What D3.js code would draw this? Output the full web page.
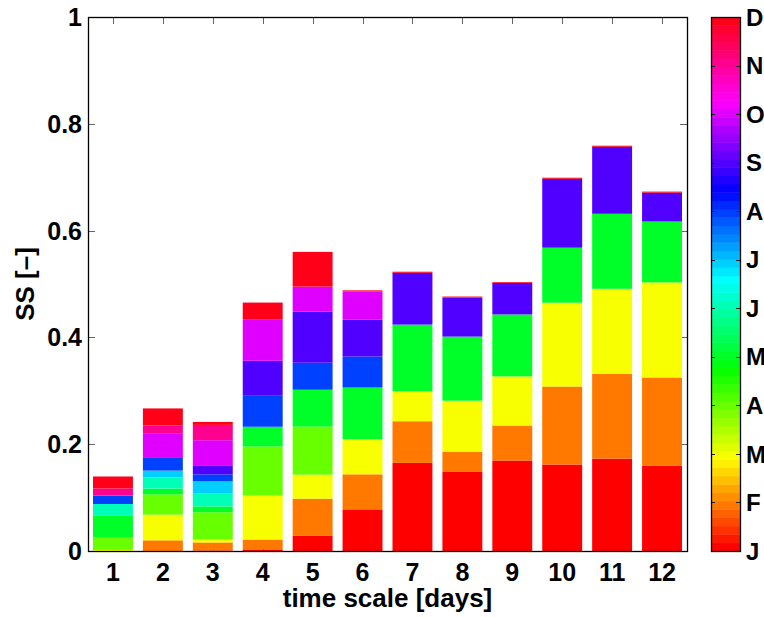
<!DOCTYPE html>
<html>
<head>
<meta charset="utf-8">
<script src="https://cdn.jsdelivr.net/npm/d3@7"></script>
<style>
  body { margin: 0; background: #fff; }
  svg text { font-family: "Liberation Sans", Arial, sans-serif; font-weight: bold; fill: #000; }
</style>
</head>
<body>
<div id="chart"></div>
<script>
// time scales (x categories)
const days = [1, 2, 3, 4, 5, 6, 7, 8, 9, 10, 11, 12];
const monthKeys = ["Jan", "Feb", "Mar", "Apr", "May", "Jun", "Jul", "Aug", "Sep", "Oct", "Nov", "Dec"];
const monthLabels = ["J", "F", "M", "A", "M", "J", "J", "A", "S", "O", "N", "D"];

// SS contribution of each month, one value per time scale
const jan = [0, 0, 0.001, 0.003, 0.029, 0.078, 0.165, 0.149, 0.1695, 0.162, 0.173, 0.160];
const feb = [0, 0.020, 0.015, 0.0185, 0.069, 0.0656, 0.078, 0.037, 0.0655, 0.146, 0.159, 0.165];
const mar = [0.002, 0.048, 0.0055, 0.0825, 0.045, 0.0655, 0.056, 0.0955, 0.092, 0.157, 0.159, 0.178];
const apr = [0.023, 0.038, 0.051, 0.0917, 0.090, 0, 0, 0, 0, 0, 0, 0];
const may = [0.041, 0.011, 0.011, 0.037, 0.069, 0.097, 0.125, 0.120, 0.116, 0.103, 0.1405, 0.114];
const jun = [0.022, 0.0206, 0.025, 0, 0, 0, 0, 0, 0, 0, 0, 0];
const jul = [0, 0.013, 0.022, 0, 0, 0, 0, 0, 0, 0, 0, 0];
const aug = [0.016, 0.025, 0.013, 0.058, 0.0506, 0.058, 0, 0, 0, 0, 0, 0];
const sep = [0, 0, 0.017, 0.0655, 0.0955, 0.0695, 0.097, 0.073, 0.059, 0.129, 0.1255, 0.054];
const oct = [0, 0.045, 0.047, 0.077, 0.047, 0.0525, 0, 0, 0, 0, 0, 0];
const nov = [0.013, 0.0144, 0.0286, 0, 0, 0, 0, 0, 0, 0, 0, 0];
const dec = [0.0225, 0.032, 0.0056, 0.032, 0.065, 0.002, 0.002, 0.002, 0.0015, 0.002, 0.002, 0.002];

const yTicks = [0, 0.2, 0.4, 0.6, 0.8, 1];

const monthSeries = [jan, feb, mar, apr, may, jun, jul, aug, sep, oct, nov, dec];
const rows = days.map((d, i) => {
    const r = { day: d };
    monthKeys.forEach((k, m) => r[k] = monthSeries[m][i]);
    return r;
});

const W = 764, H = 617;
const mLeft = 88, mRight = 687, mTop = 17, mBottom = 551;
const nColors = 64;

// MATLAB-like hsv(64) colormap, scaled over months 1..12
const hsvColor = idx => d3.hsl(idx / nColors * 360, 1, 0.5).formatHex();
const monthColor = m => hsvColor(Math.min(nColors - 1, Math.floor(m / 11 * nColors)));

const svg = d3.select("#chart").append("svg")
    .attr("width", W)
    .attr("height", H);

svg.append("rect").attr("width", W).attr("height", H).attr("fill", "#fff");

const x = d3.scaleBand().domain(days).range([mLeft, mRight]).paddingInner(0.2).paddingOuter(0.1);
const y = d3.scaleLinear().domain([0, 1]).range([mBottom, mTop]);

const fmt = d3.format("~g");
const tickLen = 7;

// inward ticks (under the bars)
const ticks = svg.append("g").attr("stroke", "#666").attr("stroke-width", 1);
yTicks.forEach(t => {
    const yy = Math.round(y(t)) + 0.5;
    ticks.append("line").attr("x1", mLeft).attr("x2", mLeft + tickLen).attr("y1", yy).attr("y2", yy);
    ticks.append("line").attr("x1", mRight).attr("x2", mRight - tickLen).attr("y1", yy).attr("y2", yy);
});
days.forEach(d => {
    const xx = Math.round(x(d) + x.bandwidth() / 2) + 0.5;
    ticks.append("line").attr("x1", xx).attr("x2", xx).attr("y1", mTop).attr("y2", mTop + tickLen);
    ticks.append("line").attr("x1", xx).attr("x2", xx).attr("y1", mBottom).attr("y2", mBottom - tickLen);
});

const stacked = d3.stack().keys(monthKeys)(rows);

svg.append("g")
    .selectAll("g")
    .data(stacked)
    .join("g")
    .attr("fill", (s, m) => monthColor(m))
    .selectAll("rect")
    .data(s => s)
    .join("rect")
    .attr("x", d => x(d.data.day))
    .attr("width", x.bandwidth())
    .attr("y", d => y(d[1]))
    .attr("height", d => Math.max(0, y(d[0]) - y(d[1])));

// axes box
svg.append("rect")
    .attr("x", mLeft + 0.5).attr("y", mTop + 0.5)
    .attr("width", mRight - mLeft).attr("height", mBottom - mTop)
    .attr("fill", "none").attr("stroke", "#000").attr("stroke-width", 1.3);

// tick labels
svg.append("g").selectAll("text")
    .data(yTicks)
    .join("text")
    .attr("x", mLeft - 6)
    .attr("y", d => y(d))
    .attr("dy", "0.36em")
    .attr("text-anchor", "end")
    .style("font-size", "25px")
    .text(d => fmt(d));

svg.append("g").selectAll("text")
    .data(days)
    .join("text")
    .attr("x", d => x(d) + x.bandwidth() / 2)
    .attr("y", 581)
    .attr("text-anchor", "middle")
    .style("font-size", "25px")
    .text(d => d);

svg.append("text")
    .attr("x", (mLeft + mRight) / 2)
    .attr("y", 607)
    .attr("text-anchor", "middle")
    .style("font-size", "26px")
    .text("time scale [days]");

svg.append("text")
    .attr("transform", `translate(34,${(mTop + mBottom) / 2}) rotate(-90)`)
    .attr("text-anchor", "middle")
    .style("font-size", "26px")
    .text("SS [\u2013]");

// colorbar
const cbX = 711, cbW = 29;
const cbY = d3.scaleLinear().domain([0, nColors]).range([mBottom, mTop]);
svg.append("g").selectAll("rect")
    .data(d3.range(nColors))
    .join("rect")
    .attr("x", cbX)
    .attr("width", cbW)
    .attr("y", i => cbY(i + 1))
    .attr("height", i => cbY(i) - cbY(i + 1) + 0.5)
    .attr("fill", i => hsvColor(i));

const cbTick = d3.scaleLinear().domain([0, 11]).range([mBottom, mTop]);
const cbTicks = svg.append("g").attr("stroke", "#222").attr("stroke-width", 1);
monthLabels.forEach((lab, i) => {
    const yy = Math.round(cbTick(i)) + 0.5;
    cbTicks.append("line").attr("x1", cbX).attr("x2", cbX + 4).attr("y1", yy).attr("y2", yy);
    cbTicks.append("line").attr("x1", cbX + cbW).attr("x2", cbX + cbW - 4).attr("y1", yy).attr("y2", yy);
});

svg.append("rect")
    .attr("x", cbX + 0.5).attr("y", mTop + 0.5)
    .attr("width", cbW).attr("height", mBottom - mTop)
    .attr("fill", "none").attr("stroke", "#000").attr("stroke-width", 1.3);

svg.append("g").selectAll("text")
    .data(monthLabels)
    .join("text")
    .attr("x", cbX + cbW + 6)
    .attr("y", (d, i) => cbTick(i))
    .attr("dy", "0.36em")
    .style("font-size", "24px")
    .text(d => d);
</script>
</body>
</html>
